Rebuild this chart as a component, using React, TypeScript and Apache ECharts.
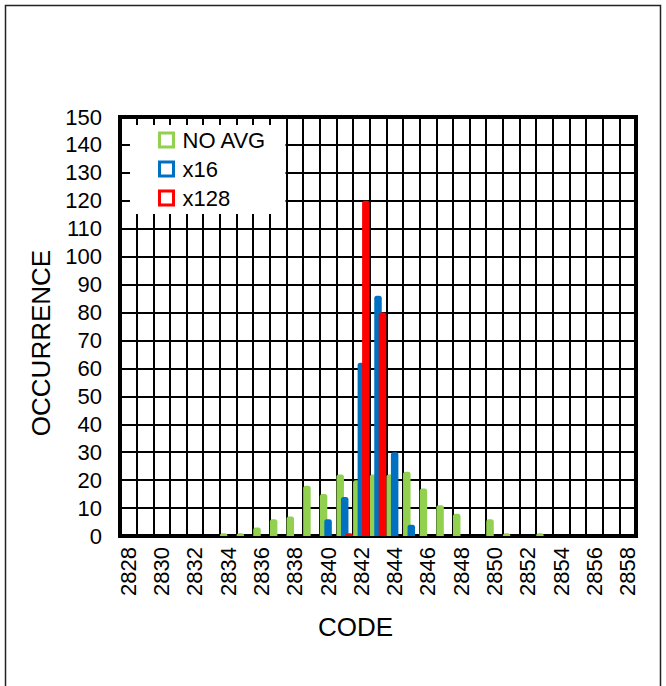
import React, { useEffect, useRef } from "react";
import * as echarts from "echarts";

const codes = [
  "2828", "2829", "2830", "2831", "2832", "2833", "2834", "2835", "2836", "2837",
  "2838", "2839", "2840", "2841", "2842", "2843", "2844", "2845", "2846", "2847",
  "2848", "2849", "2850", "2851", "2852", "2853", "2854", "2855", "2856", "2857",
  "2858",
];

const noAvg = [
  0, 0, 0, 0, 0, 0, 1, 1, 3, 6,
  7, 18, 15, 22, 20, 22, 22, 23, 17, 11,
  8, 0, 6, 1, 0, 1, 0, 0, 0, 0,
  0,
];

const x16 = [
  0, 0, 0, 0, 0, 0, 0, 0, 0, 0,
  0, 0, 6, 14, 62, 86, 30, 4, 0, 0,
  0, 0, 0, 0, 0, 0, 0, 0, 0, 0,
  0,
];

const x128 = [
  0, 0, 0, 0, 0, 0, 0, 0, 0, 0,
  0, 0, 0, 1, 120, 80, 0, 0, 0, 0,
  0, 0, 0, 0, 0, 0, 0, 0, 0, 0,
  0,
];

const seriesNames = ["NO AVG", "x16", "x128"];
const seriesColors = ["#92D050", "#0070C0", "#FF0000"];
const xTitle = "CODE";
const yTitle = "OCCURRENCE";

const FONT = "'Liberation Sans', Arial, sans-serif";

export default function App() {
  const ref = useRef<HTMLDivElement>(null);

  useEffect(() => {
    if (!ref.current) return;
    const chart = echarts.init(ref.current, null, { renderer: "svg" });
    const values = [noAvg, x16, x128];
    chart.setOption({
      animation: false,
      backgroundColor: "#fff",
      textStyle: { fontFamily: FONT, color: "#000" },
      graphic: [
        {
          type: "rect",
          shape: { x: 5.5, y: 5.5, width: 655, height: 720 },
          style: { fill: "none", stroke: "#222", lineWidth: 1.5 },
          z: 100,
        },
        {
          type: "text",
          x: 355.5,
          y: 627,
          style: {
            text: xTitle,
            fontSize: 26,
            fontFamily: FONT,
            fill: "#000",
            align: "center",
            verticalAlign: "middle",
          },
        },
        {
          type: "text",
          x: 41,
          y: 343,
          rotation: Math.PI / 2,
          style: {
            text: yTitle,
            fontSize: 26,
            fontFamily: FONT,
            fill: "#000",
            align: "center",
            verticalAlign: "middle",
          },
        },
      ],
      grid: {
        left: 120,
        right: 30,
        top: 117,
        bottom: 150,
        show: true,
        borderColor: "#000",
        borderWidth: 4,
        backgroundColor: "transparent",
      },
      legend: {
        orient: "vertical",
        left: 130,
        top: 125,
        backgroundColor: "#fff",
        padding: [4, 19, 5, 28],
        itemWidth: 14,
        itemHeight: 14,
        itemGap: 7,
        icon: "rect",
        textStyle: {
          fontSize: 22,
          color: "#000",
          fontFamily: FONT,
          padding: [0, 0, 0, 4],
        },
        data: seriesNames.map((n, i) => ({
          name: n,
          itemStyle: { color: "#fff", borderColor: seriesColors[i], borderWidth: 3 },
        })),
      },
      xAxis: {
        type: "category",
        data: codes,
        boundaryGap: true,
        axisLine: { show: true, lineStyle: { color: "#000", width: 4 } },
        axisTick: { show: false },
        axisLabel: {
          interval: 1,
          rotate: 90,
          fontSize: 22,
          color: "#000",
          fontFamily: FONT,
          margin: 11,
        },
        splitLine: { show: true, interval: 0, lineStyle: { color: "#000", width: 2 } },
      },
      yAxis: {
        type: "value",
        min: 0,
        max: 150,
        interval: 10,
        axisLine: { show: true, lineStyle: { color: "#000", width: 4 } },
        axisTick: { show: false },
        axisLabel: { fontSize: 22, color: "#000", fontFamily: FONT, margin: 18 },
        splitLine: { show: true, lineStyle: { color: "#000", width: 2 } },
      },
      series: seriesNames.map((n, i) => ({
        name: n,
        type: "bar",
        data: values[i],
        barWidth: 7.5,
        barGap: "-40%",
        barCategoryGap: 0,
        itemStyle: { color: seriesColors[i], borderRadius: [2.5, 2.5, 0, 0] },
      })),
    });
    return () => chart.dispose();
  }, []);

  return (
    <div
      ref={ref}
      style={{ position: "fixed", left: 0, top: 0, width: 666, height: 686 }}
    />
  );
}
